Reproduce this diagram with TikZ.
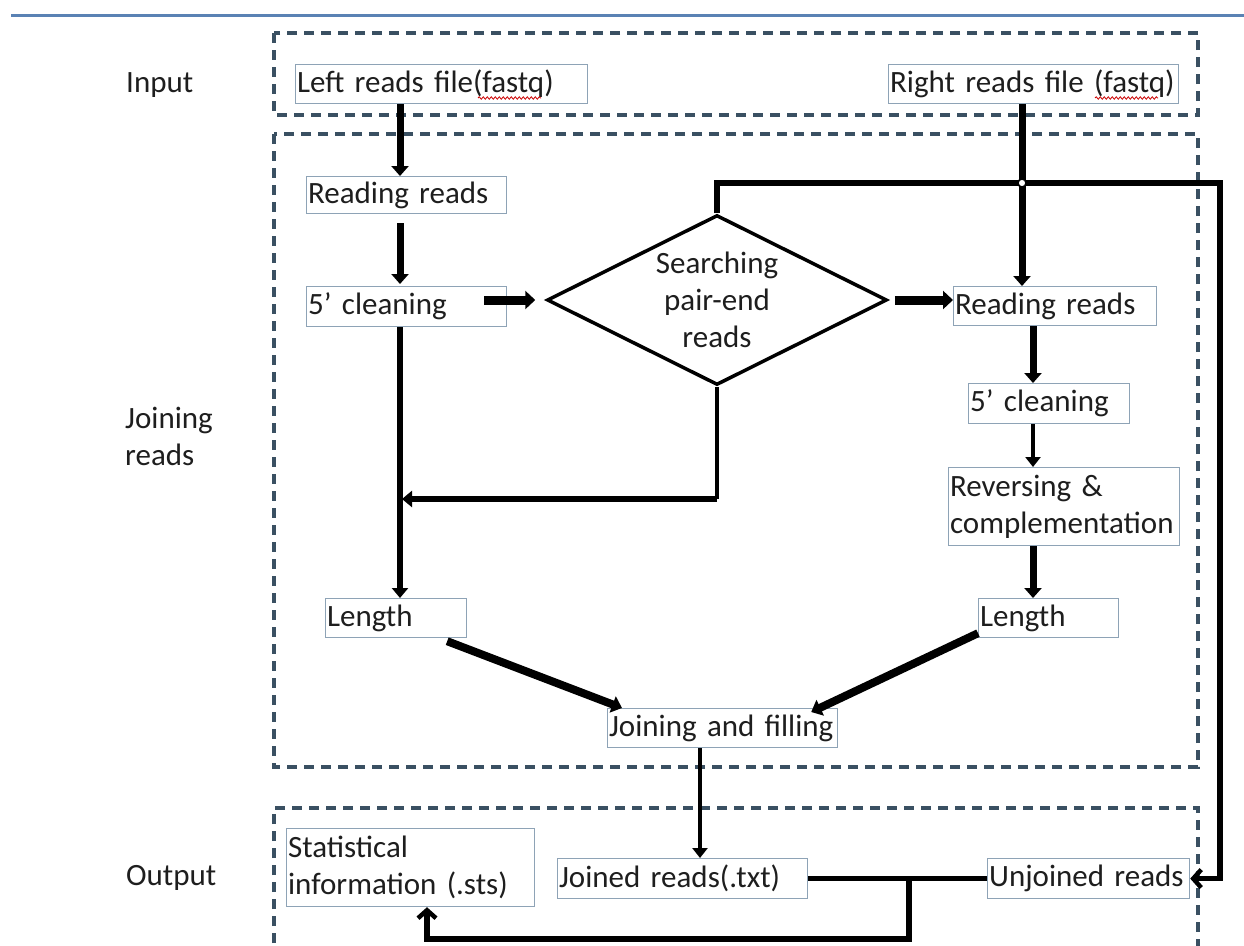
\documentclass[tikz,border=0pt]{standalone}
\usepackage{fontspec}
\setmainfont{Carlito}
\usetikzlibrary{arrows.meta,shapes.geometric,decorations.pathmorphing}
\definecolor{dashc}{HTML}{3A5062}
\definecolor{boxc}{HTML}{8EA3B6}
\definecolor{topline}{HTML}{5A82B4}
\definecolor{txt}{HTML}{1E1E1E}
\tikzset{
  fnt/.style={font=\fontsize{31}{37}\selectfont, text=txt},
  box/.style={fnt, draw=boxc, line width=1.2pt, anchor=north west, inner xsep=1.5pt, inner ysep=0pt, align=left},
  region/.style={draw=dashc, line width=3.5pt, dash pattern=on 10pt off 7pt},
  lab/.style={fnt, anchor=west, align=left, inner sep=0pt},
  arr/.style={-{Triangle[length=10pt,width=17pt]}, line width=7pt},
  arrH/.style={-{Triangle[length=10pt,width=18pt]}, line width=9pt},
  arrm/.style={-{Triangle[length=10pt,width=16pt]}, line width=5.5pt},
  arrs/.style={-{Triangle[length=10pt,width=15pt]}, line width=4.5pt},
  conn/.style={line width=5.5pt, line join=miter},
  barb/.style={-{Straight Barb[length=8pt,width=18pt,line width=4.5pt]}},
  hop/.style={circle, draw, fill=white, line width=1.5pt, inner sep=0pt, minimum size=8pt},
  wavy/.style={draw=red!80!black, line width=0.8pt, decorate, decoration={snake, amplitude=1.2pt, segment length=4pt}}
}
\begin{document}
\begin{tikzpicture}[x=1pt,y=-1pt]
\useasboundingbox (0,0) rectangle (1244,945);
\fill[white] (0,0) rectangle (1244,945);
\draw[topline, line width=3pt] (11,15) -- (1244,15);

% regions
\draw[region] (274,33) rectangle (1198,115);
\draw[region] (274,134) rectangle (1198,767);
\draw[region] (274,960) -- (274,808) -- (1198,808) -- (1198,960);

% side labels
\node[lab] (lin) at (126,85) {Input};
\node[lab] (ljr) at (125,436) {Joining\\reads};
\node[lab] (lout) at (126,878) {Output};

% boxes
\node[box, text width=289pt, minimum height=39pt] (lr) at (295,64) {Left reads file(fastq)};
\node[box, text width=287pt, minimum height=39pt] (rr) at (888,64) {Right reads file (fastq)};
\node[box, text width=197pt, minimum height=37pt] (rrL) at (306,176) {Reading reads};
\node[box, text width=197pt, minimum height=40pt] (clL) at (306,286) {5’ cleaning};
\node[fnt, diamond, draw=black, line width=3.5pt, aspect=2, inner sep=0pt, minimum width=340pt, minimum height=170pt, align=center] (dia) at (717,300) {Searching\\pair-end\\reads};
\node[box, text width=200pt, minimum height=39pt] (rrR) at (953,286) {Reading reads};
\node[box, text width=158pt, minimum height=40pt] (clR) at (968,383) {5’ cleaning};
\node[box, text width=228pt, minimum height=78pt] (rev) at (948,467) {Reversing \&\\complementation};
\node[box, text width=138pt, minimum height=39pt] (lenL) at (325,598) {Length};
\node[box, text width=137pt, minimum height=39pt] (lenR) at (978,598) {Length};
\node[box, text width=227pt, minimum height=39pt] (join) at (607,708) {Joining and filling};
\node[box, text width=245pt, minimum height=78pt] (stat) at (286,828) {Statistical\\information (.sts)};
\node[box, text width=247pt, minimum height=40pt] (joined) at (557,858) {Joined reads(.txt)};
\node[box, text width=199pt, minimum height=40pt] (unj) at (987,858) {Unjoined reads};

% spell-check marks
\draw[wavy] (478,98) -- (541,98);
\draw[wavy] (1095,98) -- (1158,98);

% guide coordinates
\coordinate (cL) at (400,0);
\coordinate (cR) at (1022,0);
\coordinate (cR2) at (1033,0);
\coordinate (cJ) at (700,0);
\coordinate (cX) at (1220,0);
\coordinate (cB) at (909,0);
\coordinate (cS) at (427,0);
\coordinate (yTop) at (0,183);
\coordinate (yMid) at (0,499);
\coordinate (yBot) at (0,939);

% connectors
\draw[arr] (lr.south -| cL) -- (rrL.north -| cL);
\draw[arr, shorten <=9pt, shorten >=2pt] (rrL.south -| cL) -- (clL.north -| cL);
\draw[arrm] (clL.south -| cL) -- (lenL.north -| cL);
\draw[arrH, shorten <=-23pt, shorten >=10pt] (clL.east |- dia.west) -- (dia.west);
\draw[arrH, shorten <=6pt] (dia.east) -- (dia.east -| rrR.west);
\draw[arr] (rr.south -| cR) -- (rrR.north -| cR);
\draw[arr] (rrR.south -| cR2) -- (clR.north -| cR2);
\draw[arrs] (clR.south -| cR2) -- (rev.north -| cR2);
\draw[arr] (rev.south -| cR2) -- (lenR.north -| cR2);
\draw[arr, line width=8pt] ([xshift=-20pt,yshift=-3pt]lenL.south east) -- ([xshift=15pt]join.north west);
\draw[arr, line width=8pt] ([yshift=5pt]lenR.south west) -- ([xshift=-27pt,yshift=-4pt]join.north east);
\draw[arrs] (join.south -| cJ) -- (joined.north -| cJ);
\draw[conn, line width=4.5pt] (dia.south) -- (dia.south |- yMid);
\draw[arrm, line width=6.5pt, shorten >=2pt] (dia.south |- yMid) -- (cL |- yMid);
\draw[conn, barb] (dia.north) -- (dia.north |- yTop) -- (cX |- yTop) -- (cX |- unj.east) -- (unj.east);
\draw[conn] (joined.east) -- (unj.west);
\draw[conn, barb] (cB |- joined.east) -- (cB |- yBot) -- (cS |- yBot) -- (cS |- stat.south);
\node[hop] (hp) at (cR |- yTop) {};
\end{tikzpicture}
\end{document}
